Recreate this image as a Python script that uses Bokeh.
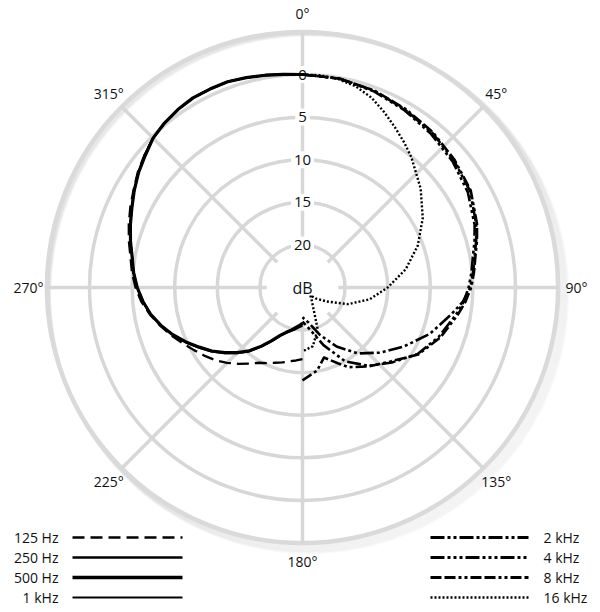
import numpy as np
from bokeh.plotting import figure
from bokeh.models import Range1d
from bokeh.core.properties import value
from bokeh.embed import file_html
from bokeh.resources import INLINE

# ---------------- data (attenuation in dB, angle in degrees clockwise from 0°) -------------
left_angles = [180, 185, 190, 195, 200, 205, 210, 215, 220, 225, 230, 235, 240, 245, 250, 255,
               260, 265, 270, 275, 280, 285, 290, 295, 300, 305, 310, 315, 320, 325, 330, 335,
               340, 345, 350, 355, 360]
att_125 = [16.6, 16.4, 16.2, 15.9, 15.6, 15.2, 14.8, 14.1, 13.3, 12.5, 11.7, 11.0, 10.3, 9.5, 8.6, 7.7,
           6.8, 6.0, 5.4, 4.9, 4.5, 3.9, 3.3, 2.7, 2.1, 1.4, 0.8, 0.2, -0.2, -0.5, -0.7, -0.7,
           -0.7, -0.5, -0.3, -0.1, 0.0]
att_250 = [20.5, 20.3, 20.0, 19.7, 19.3, 18.7, 17.7, 16.5, 15.2, 14.1, 13.0, 11.9, 10.9, 9.8, 8.8, 7.8,
           6.9, 6.2, 5.6, 5.1, 4.7, 4.1, 3.5, 2.9, 2.2, 1.5, 0.8, 0.2, -0.2, -0.5, -0.7, -0.7,
           -0.7, -0.5, -0.3, -0.1, 0.0]
att_500 = [20.8, 20.5, 20.2, 19.8, 19.4, 18.8, 17.8, 16.6, 15.3, 14.2, 13.1, 12.0, 11.0, 9.9, 8.8, 7.8,
           6.9, 6.2, 5.6, 5.1, 4.7, 4.1, 3.5, 2.9, 2.2, 1.5, 0.9, 0.2, -0.2, -0.5, -0.7, -0.7,
           -0.7, -0.5, -0.3, -0.1, 0.0]
att_1k = [20.7, 20.4, 20.2, 19.8, 19.4, 18.8, 17.8, 16.6, 15.3, 14.2, 13.1, 12.0, 11.0, 9.9, 8.8, 7.8,
          6.9, 6.2, 5.6, 5.1, 4.7, 4.1, 3.5, 2.9, 2.2, 1.5, 0.8, 0.2, -0.2, -0.5, -0.7, -0.7,
          -0.7, -0.5, -0.3, -0.1, 0.0]

right_angles = [0, 10, 20, 30, 40, 50, 60, 70, 75, 80, 85, 90, 95, 100, 110, 120, 130, 140, 150, 160, 170, 180]
att_2k = [0.0, 0.1, 0.4, 0.9, 1.3, 1.8, 2.3, 3.3, 3.9, 4.5, 4.9, 5.3, 6.1, 7.2, 9.1, 11.2, 13.1, 14.9, 17.0, 19.1, 20.8, 21.5]
att_4k = [0.0, 0.1, 0.5, 1.0, 1.5, 2.0, 2.6, 3.5, 4.1, 4.7, 5.1, 5.5, 6.0, 6.7, 8.0, 9.4, 11.3, 13.0, 15.0, 17.8, 20.0, 21.0]
angles_8k = [0, 10, 20, 30, 40, 50, 60, 70, 75, 80, 85, 90, 95, 100, 110, 120, 130, 140, 150, 155, 163, 170, 180]
att_8k = [0.0, 0.1, 0.4, 0.8, 1.2, 1.7, 2.2, 3.2, 3.8, 4.4, 4.8, 5.2, 5.8, 6.5, 7.8, 9.3, 11.5, 12.9, 14.2, 15.2, 16.4, 15.1, 14.1]
angles_16k = [0, 5, 10, 15, 20, 25, 30, 35, 40, 50, 60, 70, 80, 90, 100, 110, 120, 130, 135, 145, 150, 160, 170, 180]
att_16k = [0.0, 0.0, 0.2, 0.6, 1.3, 2.3, 3.3, 4.2, 5.1, 6.9, 8.7, 10.6, 12.7, 15.0, 17.0, 19.3, 21.7, 23.0, 23.7, 23.1, 22.6, 19.8, 18.0, 17.5]

ring_db = [0, 5, 10, 15, 20]
ring_labels = ["0", "5", "10", "15", "20"]
angle_ticks = [0, 45, 90, 135, 180, 225, 270, 315]
angle_labels = ["0°", "45°", "90°", "135°", "180°", "225°", "270°", "315°"]

left_names = ["125 Hz", "250 Hz", "500 Hz", "1 kHz"]
right_names = ["2 kHz", "4 kHz", "8 kHz", "16 kHz"]

# ---------------- styles ----------------
STYLE = {
    "125 Hz": dict(dash="12 6", width=2.3),
    "250 Hz": dict(dash="solid", width=2.0),
    "500 Hz": dict(dash="solid", width=3.2),
    "1 kHz": dict(dash="solid", width=1.9),
    "2 kHz": dict(dash="14 3 3 3 3 3", width=2.6),
    "4 kHz": dict(dash="14 3 3 3 3 3 3 3", width=2.6),
    "8 kHz": dict(dash="11 3 11 3 3 3 3 3", width=2.6),
    "16 kHz": dict(dash="2 2", width=2.4),
}
SERIES = [
    ("125 Hz", left_angles, att_125),
    ("250 Hz", left_angles, att_250),
    ("500 Hz", left_angles, att_500),
    ("1 kHz", left_angles, att_1k),
    ("2 kHz", right_angles, att_2k),
    ("4 kHz", right_angles, att_4k),
    ("8 kHz", angles_8k, att_8k),
    ("16 kHz", angles_16k, att_16k),
]

FULL_DB = 25.0          # attenuation at centre
PX_PER_DB = 8.52
RING = 5 * PX_PER_DB
OUTER = 6 * RING
GRID = "#d7d7d7"
FONT = value("Open Sans")
INK = "#111111"


def to_xy(angles, att):
    a = np.radians(np.asarray(angles, dtype=float))
    r = (FULL_DB - np.asarray(att, dtype=float)) * PX_PER_DB
    return r * np.sin(a), r * np.cos(a)


p = figure(width=600, height=612, output_backend="svg", toolbar_location=None,
           x_range=Range1d(-302, 298), y_range=Range1d(-325, 287),
           x_axis_location=None, y_axis_location=None, min_border=0)
p.outline_line_color = None
p.grid.grid_line_color = None
p.background_fill_color = "white"

# outer ring with a soft drop shadow toward the lower right
for d in range(1, 9):
    p.circle(x=[d * 0.8], y=[-d * 0.8], radius=OUTER + d * 0.4, fill_color=None,
             line_color="black", line_alpha=0.025, line_width=3)
p.circle(x=[0], y=[0], radius=OUTER, fill_color=None, line_color="#dadada", line_width=4.5)

# inner rings
p.circle(x=[0] * 5, y=[0] * 5, radius=[RING * k for k in range(1, 6)],
         fill_color=None, line_color=GRID, line_width=3.5)

# radial lines
ta = np.radians(angle_ticks)
r0, r1 = RING * 0.84, OUTER
p.segment(x0=r0 * np.sin(ta), y0=r0 * np.cos(ta), x1=r1 * np.sin(ta), y1=r1 * np.cos(ta),
          line_color=GRID, line_width=3.5)

# ring value labels on the 0° axis
ry = [(FULL_DB - v) * PX_PER_DB for v in ring_db]
p.rect(x=[0] * len(ry), y=ry, width=[8.5 * len(s) + 6 for s in ring_labels], height=17,
       fill_color="white", line_color=None)
p.text(x=[0] * len(ry), y=ry, text=ring_labels, text_align="center", text_baseline="middle",
       text_font=FONT, text_font_size="15px", text_color=INK)
p.text(x=[0], y=[0], text=["dB"], text_align="center", text_baseline="middle",
       text_font=FONT, text_font_size="16px", text_color=INK)

# angle labels
lr = 274
p.text(x=lr * np.sin(ta), y=lr * np.cos(ta), text=angle_labels, text_align="center",
       text_baseline="middle", text_font=FONT, text_font_size="14px", text_color=INK)

# curves
for name, ang, att in SERIES:
    x, y = to_xy(ang, att)
    st = STYLE[name]
    p.line(x, y, line_color="black", line_width=st["width"], line_dash=st["dash"],
           line_join="round")

# legend (bottom-left and bottom-right)
rows = [-250, -270, -290, -310]
for name, yy in zip(left_names, rows):
    st = STYLE[name]
    p.line([-230, -120], [yy, yy], line_color="black", line_width=st["width"] + 0.3,
           line_dash=st["dash"])
p.text(x=[-244] * 4, y=rows, text=left_names, text_align="right", text_baseline="middle",
       text_font=FONT, text_font_size="14px", text_color=INK)
for name, yy in zip(right_names, rows):
    st = STYLE[name]
    p.line([128, 226], [yy, yy], line_color="black", line_width=st["width"] + 0.3,
           line_dash=st["dash"])
p.text(x=[241] * 4, y=rows, text=right_names, text_align="left", text_baseline="middle",
       text_font=FONT, text_font_size="14px", text_color=INK)

open("out.html", "w").write(file_html(p, INLINE))
